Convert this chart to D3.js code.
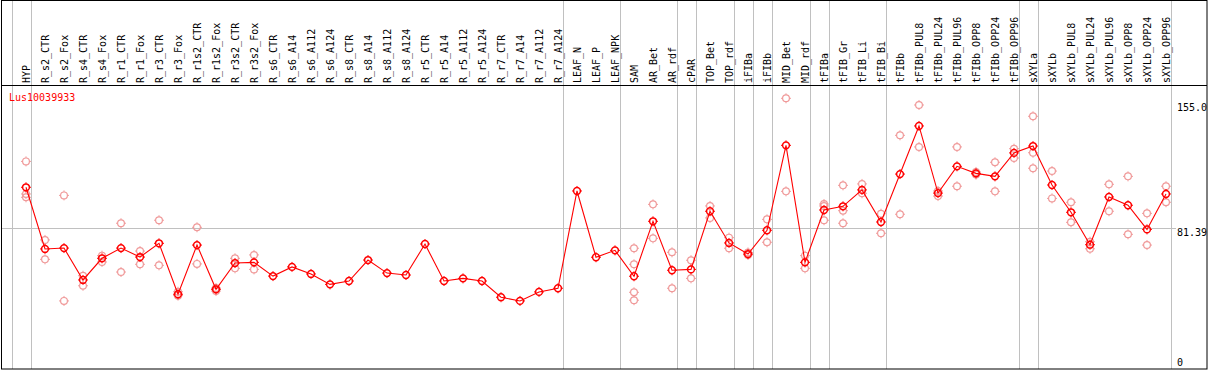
<!DOCTYPE html>
<html>
<head>
<meta charset="utf-8">
<script src="https://cdn.jsdelivr.net/npm/d3@7"></script>
<style>
  body { margin: 0; background: #fff; }
  svg { display: block; }
  text { font-family: "DejaVu Sans Mono", monospace; font-size: 10px; }
</style>
</head>
<body>
<div id="chart"></div>
<script>
var geneName = 'Lus10039933';

var categories = ['HYP', 'R_s2_CTR', 'R_s2_Fox', 'R_s4_CTR', 'R_s4_Fox', 'R_r1_CTR', 'R_r1_Fox',
    'R_r3_CTR', 'R_r3_Fox', 'R_r1s2_CTR', 'R_r1s2_Fox', 'R_r3s2_CTR', 'R_r3s2_Fox',
    'R_s6_CTR', 'R_s6_A14', 'R_s6_A112', 'R_s6_A124', 'R_s8_CTR', 'R_s8_A14', 'R_s8_A112', 'R_s8_A124',
    'R_r5_CTR', 'R_r5_A14', 'R_r5_A112', 'R_r5_A124', 'R_r7_CTR', 'R_r7_A14', 'R_r7_A112', 'R_r7_A124',
    'LEAF_N', 'LEAF_P', 'LEAF_NPK', 'SAM', 'AR_Bet', 'AR_rdf', 'cPAR', 'TOP_Bet', 'TOP_rdf',
    'iFIBa', 'iFIBb', 'MID_Bet', 'MID_rdf', 'tFIBa', 'tFIB_Gr', 'tFIB_Li', 'tFIB_Bi', 'tFIBb',
    'tFIBb_PUL8', 'tFIBb_PUL24', 'tFIBb_PUL96', 'tFIBb_OPP8', 'tFIBb_OPP24', 'tFIBb_OPP96',
    'sXYLa', 'sXYLb', 'sXYLb_PUL8', 'sXYLb_PUL24', 'sXYLb_PUL96', 'sXYLb_OPP8', 'sXYLb_OPP24', 'sXYLb_OPP96'];

// mean expression per sample
var meanValues = [104.5, 69.5, 70.0, 51.9, 64.2, 70.0, 64.9, 72.7, 43.8, 71.7, 46.6, 61.5, 61.9,
    54.1, 59.3, 55.3, 49.4, 51.3, 63.2, 55.8, 54.7, 72.3, 51.3, 52.8, 51.3, 42.1, 40.0, 45.1, 47.2,
    102.4, 64.8, 68.7, 54.0, 85.2, 57.4, 57.9, 90.9, 72.9, 66.6, 80.1, 128.3, 61.9,
    91.6, 93.7, 103.0, 84.8, 112.0, 139.3, 101.2, 116.4, 112.4, 110.7, 124.0,
    127.9, 105.8, 90.3, 71.9, 99.0, 94.3, 80.6, 100.7];

// individual replicates
var replicateValues = [[119.2, 100.7, 98.8], [74.6, 63.6], [99.9, 40.0], [54.3, 48.6], [65.7, 62.1],
    [84.1, 56.4], [68.3, 60.8], [85.8, 60.2], [45.2, 43.0], [81.8, 61.0], [47.3, 45.6], [64.2, 58.5],
    [66.1, 57.9],
    [], [], [], [], [], [], [], [], [], [], [], [], [], [], [], [], [], [], [],
    [69.9, 60.8, 44.9, 40.4], [94.8, 75.5], [67.6, 47.2], [63.1, 52.8], [93.9, 87.1], [75.9, 69.9],
    [67.5, 66.1], [86.3, 73.3], [155.0, 102.2], [65.7, 58.5],
    [95.0, 93.9, 85.8], [105.6, 91.2, 84.1], [106.4, 101.1], [89.5, 78.4], [134.0, 89.2],
    [151.2, 127.4], [102.4, 99.5], [127.4, 105.1], [113.2, 111.7], [118.7, 102.2], [126.4, 121.1],
    [144.8, 124.1, 115.3], [113.7, 98.2], [96.0, 84.6], [73.6, 69.6], [106.2, 90.9], [110.7, 77.8],
    [89.7, 71.7], [105.1, 96.0]];

// a separator line is drawn after each of these samples
var groupEnds = ['HYP', 'R_r7_A124', 'LEAF_NPK', 'AR_rdf', 'cPAR', 'TOP_rdf', 'iFIBa', 'iFIBb',
    'MID_rdf', 'tFIBa', 'tFIB_Bi', 'tFIBb_OPP96', 'sXYLa', 'sXYLb_OPP96'];

var maxValue = 155.0;
var refValue = 81.39;
var axisLabels = [maxValue, refValue, 0];

var width = 1209;
var height = 370;
var headerBottom = 85;
var plotBottom = 369;
var plotRight = 1207;
var gridColor = '#c0c0c0';
var mainColor = '#ff0000';
var faintColor = '#f09a9a';

window.onload = function() {
    var svg = d3.select('#chart').append('svg')
        .attr('width', width)
        .attr('height', height);

    var x = d3.scalePoint()
        .domain(categories)
        .range([26, 1166]);
    var step = x.step();

    var y = d3.scaleLinear()
        .domain([0, maxValue])
        .range([371.4, 98.3]);

    // separators
    var seps = [x(categories[0]) - step + 4.5].concat(groupEnds.map(function(c) { return x(c) + 4.5; }));
    svg.selectAll('line.sep')
        .data(seps)
        .enter().append('line')
        .attr('class', 'sep')
        .attr('x1', function(d) { return Math.round(d) + 0.5; })
        .attr('x2', function(d) { return Math.round(d) + 0.5; })
        .attr('y1', 0)
        .attr('y2', plotBottom)
        .attr('stroke', gridColor);

    // reference line
    svg.append('line')
        .attr('x1', 1)
        .attr('x2', 1176)
        .attr('y1', Math.round(y(refValue)) + 0.5)
        .attr('y2', Math.round(y(refValue)) + 0.5)
        .attr('stroke', gridColor);

    // frame
    svg.append('rect')
        .attr('x', 1.5)
        .attr('y', 0.5)
        .attr('width', plotRight - 1.5)
        .attr('height', plotBottom - 0.5)
        .attr('fill', 'none')
        .attr('stroke', '#000');
    svg.append('line')
        .attr('x1', 1)
        .attr('x2', plotRight)
        .attr('y1', headerBottom + 0.5)
        .attr('y2', headerBottom + 0.5)
        .attr('stroke', '#000');

    // sample names
    svg.selectAll('text.cat')
        .data(categories)
        .enter().append('text')
        .attr('class', 'cat')
        .attr('transform', function(d) { return 'translate(' + (x(d) + 3.5) + ',83) rotate(-90)'; })
        .attr('fill', '#000')
        .text(function(d) { return d; });

    // axis labels
    svg.selectAll('text.ax')
        .data(axisLabels)
        .enter().append('text')
        .attr('class', 'ax')
        .attr('x', 1177)
        .attr('y', function(d) { return Math.min(Math.max(y(d) + 8, 110.5), 365.5); })
        .attr('fill', '#000')
        .text(function(d) { return d === 0 ? '0' : (d === maxValue ? d.toFixed(1) : d.toFixed(2)); });

    svg.append('text')
        .attr('x', 9)
        .attr('y', 101)
        .attr('fill', mainColor)
        .text(geneName);

    function marker(g, cx, cy, color, sw) {
        var r = 3.4;
        g.append('circle')
            .attr('cx', cx)
            .attr('cy', cy)
            .attr('r', r)
            .attr('fill', 'none')
            .attr('stroke', color)
            .attr('stroke-width', sw);
        var t = r + 1.6;
        g.append('path')
            .attr('d', 'M' + cx + ',' + (cy - t) + 'V' + (cy - r) + 'M' + cx + ',' + (cy + r) + 'V' + (cy + t) +
                'M' + (cx - t) + ',' + cy + 'H' + (cx - r) + 'M' + (cx + r) + ',' + cy + 'H' + (cx + t))
            .attr('stroke', color)
            .attr('stroke-width', 1);
    }

    // replicates
    var reps = svg.append('g');
    categories.forEach(function(c, i) {
        replicateValues[i].forEach(function(v) {
            marker(reps, x(c), y(v), faintColor, 1.2);
        });
    });

    // mean line
    var line = d3.line()
        .x(function(d, i) { return x(categories[i]); })
        .y(function(d) { return y(d); });
    svg.append('path')
        .datum(meanValues)
        .attr('d', line)
        .attr('fill', 'none')
        .attr('stroke', mainColor)
        .attr('stroke-width', 1.1);

    var means = svg.append('g');
    meanValues.forEach(function(v, i) {
        marker(means, x(categories[i]), y(v), mainColor, 1.5);
    });
}
</script>
</body>
</html>
